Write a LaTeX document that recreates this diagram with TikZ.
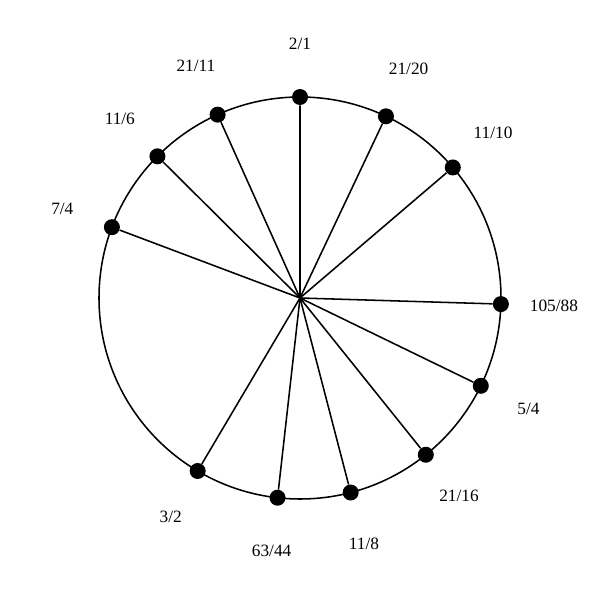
\documentclass[tikz,border=0pt]{standalone}
\usepackage{fontspec}
\setmainfont{Liberation Serif}

\begin{document}
\begin{tikzpicture}[x=0.025cm,y=0.025cm]
    \tikzstyle{rayon}=[line width=1.1pt]
    \tikzstyle{point}=[circle, fill=black, inner sep=0pt, minimum size=0.4cm]
    \tikzstyle{etiquette}=[font=\fontsize{12.3}{14}\selectfont]

    \useasboundingbox (0,0) rectangle (600,600);
    \coordinate (centre) at (300,302);
    \draw [rayon] (centre) circle (201);
    % one ray per ratio, angle from log2 of the ratio
    \foreach \n/\d in {2/1,21/20,11/10,105/88,5/4,21/16,11/8,63/44,3/2,7/4,11/6,21/11} {
        \pgfmathsetmacro{\ang}{90-360*ln(\n/\d)/ln(2)}
        \node [point] (p\n-\d) at ([shift={(\ang:201)}]centre) {};
        \draw [rayon] (centre) -- (p\n-\d);
        \node [etiquette] (l\n-\d) at ([shift={(\ang:254)}]centre) {\n/\d};
    }
\end{tikzpicture}
\end{document}
